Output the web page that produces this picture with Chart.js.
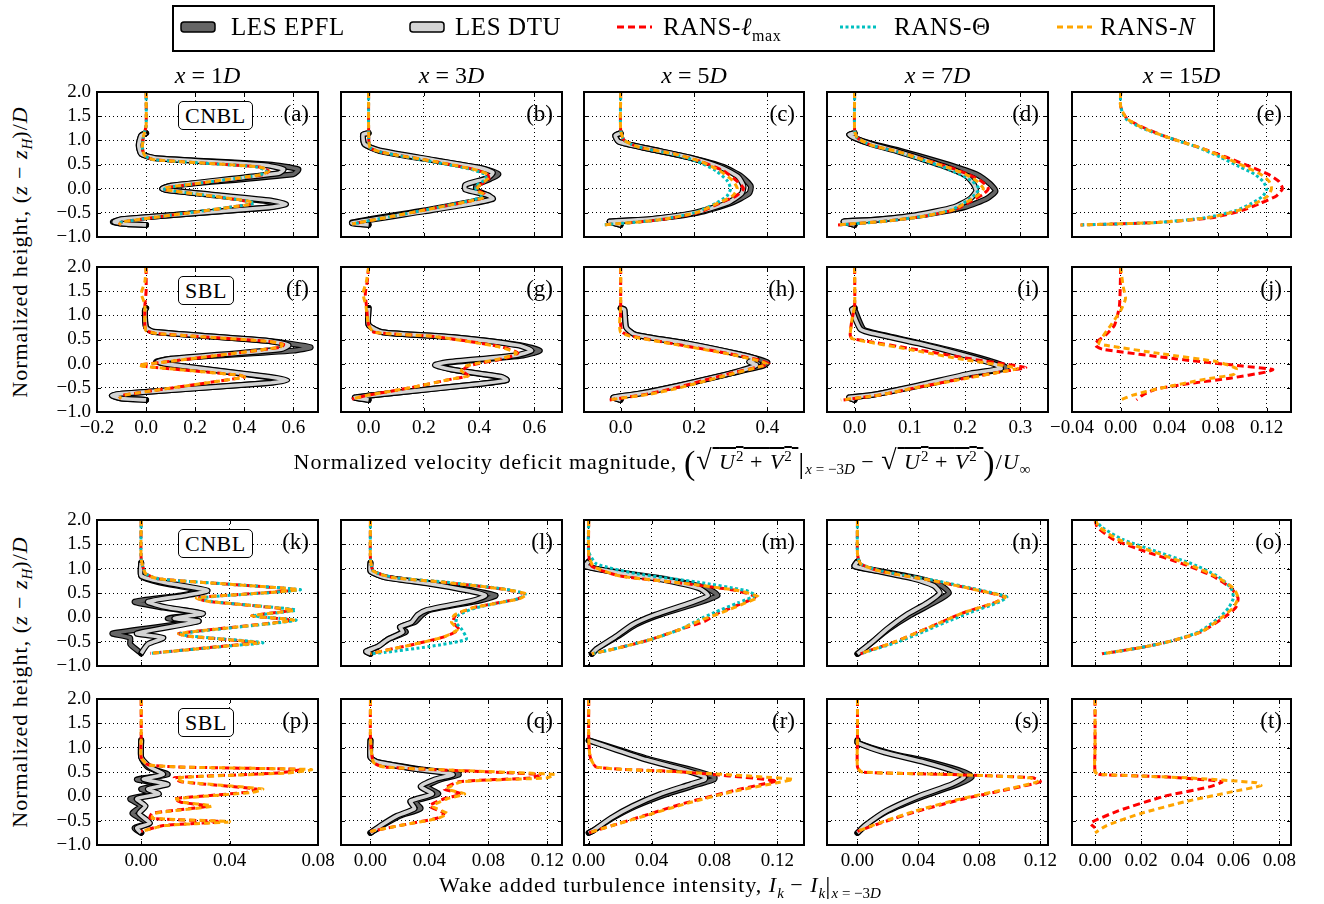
<!DOCTYPE html>
<html>
<head>
<meta charset="utf-8">
<script src="https://cdn.jsdelivr.net/npm/chart.js@4.4.0/dist/chart.umd.min.js"></script>
<style>
body { margin: 0; background: #fff; font-family: "Liberation Serif", "DejaVu Serif", serif; }
#fig { position: relative; width: 1324px; height: 904px; overflow: hidden; background: #fff; }
#fig canvas { position: absolute; }
.t { position: absolute; white-space: nowrap; color: #000; line-height: 1; }
.lbl { font-size: 22px; letter-spacing: 1px; }
.box { position: absolute; border: 1.5px solid #000; border-radius: 5px; font-size: 22px; padding: 3px 6px 2px 6px; line-height: 1; background: #fff; letter-spacing: 0.5px; }
.ov { text-decoration: overline; }
.s { font-size: 15px; letter-spacing: 0; }
.leg { font-size: 25px; letter-spacing: 0.6px; top: 14px; }
</style>
</head>
<body>
<div id="fig"></div>
<script>
// ---- axes / ticks ----
const yTicks = [-1, -0.5, 0, 0.5, 1, 1.5, 2];
const xRangeVel = [[-0.2, 0.7], [-0.1, 0.7], [-0.1, 0.5], [-0.05, 0.35], [-0.04, 0.14]];
const xTicksVel = [[-0.2, 0, 0.2, 0.4, 0.6], [0, 0.2, 0.4, 0.6], [0, 0.2, 0.4], [0, 0.1, 0.2, 0.3], [-0.04, 0, 0.04, 0.08, 0.12]];
const xDecVel = [1, 1, 1, 1, 2];
const xRangeTI = [[-0.02, 0.08], [-0.02, 0.13], [-0.003, 0.137], [-0.02, 0.125], [-0.01, 0.085]];
const xTicksTI = [[0, 0.04, 0.08], [0, 0.04, 0.08, 0.12], [0, 0.04, 0.08, 0.12], [0, 0.04, 0.08, 0.12], [0, 0.02, 0.04, 0.06, 0.08]];
const columns = ['1', '3', '5', '7', '15'];

// ---- data: [x, (z - zH)/D] pairs ----
// row 1: CNBL velocity deficit
const a_epfl = [[0,1.15],[-0.02,1.1],[-0.03,0.9],[-0.02,0.72],[0.04,0.63],[0.5,0.5],[0.62,0.4],[0.6,0.3],[0.1,0.06],[0.065,0.0],[0.1,-0.04],[0.48,-0.25],[0.55,-0.33],[0.48,-0.4],[-0.1,-0.63],[-0.135,-0.69],[-0.08,-0.73],[0,-0.75]];
const a_dtu = [[0,1.15],[-0.02,1.1],[-0.03,0.9],[-0.02,0.72],[0.04,0.63],[0.48,0.49],[0.56,0.4],[0.54,0.32],[0.1,0.06],[0.065,0.0],[0.1,-0.04],[0.5,-0.24],[0.57,-0.32],[0.5,-0.39],[-0.1,-0.63],[-0.13,-0.69],[-0.08,-0.73],[0,-0.75]];
const a_lmax = [[0,2],[0,1.3],[-0.01,1.1],[-0.015,0.85],[-0.005,0.68],[0.03,0.6],[0.46,0.45],[0.5,0.36],[0.47,0.28],[0.08,0.02],[0.075,-0.02],[0.41,-0.26],[0.43,-0.32],[-0.1,-0.69],[-0.11,-0.75]];
const a_theta = [[0,2],[0,1.3],[-0.01,1.1],[-0.015,0.85],[-0.005,0.68],[0.03,0.6],[0.45,0.45],[0.49,0.36],[0.46,0.28],[0.08,0.02],[0.075,-0.02],[0.42,-0.26],[0.44,-0.31],[-0.1,-0.69],[-0.11,-0.75]];
const a_n = [[0,2],[0,1.3],[-0.01,1.1],[-0.015,0.85],[-0.005,0.68],[0.03,0.6],[0.46,0.45],[0.5,0.37],[0.47,0.29],[0.08,0.02],[0.075,-0.02],[0.42,-0.26],[0.43,-0.32],[-0.1,-0.69],[-0.11,-0.75]];

const b_epfl = [[0,1.15],[-0.02,1.12],[-0.015,0.92],[0.04,0.78],[0.24,0.58],[0.42,0.41],[0.47,0.3],[0.44,0.2],[0.39,0.07],[0.39,-0.03],[0.43,-0.14],[0.40,-0.24],[0.2,-0.45],[-0.06,-0.7],[0,-0.75]];
const b_dtu = [[0,1.15],[-0.02,1.12],[-0.015,0.92],[0.04,0.79],[0.24,0.59],[0.41,0.42],[0.45,0.33],[0.43,0.22],[0.35,0.08],[0.35,-0.02],[0.43,-0.13],[0.45,-0.21],[0.38,-0.3],[0.2,-0.47],[-0.06,-0.71],[0,-0.75]];
const b_lmax = [[0,2],[0,1.2],[0.005,0.85],[0.05,0.75],[0.24,0.56],[0.38,0.4],[0.43,0.3],[0.435,0.2],[0.4,0.06],[0.4,-0.04],[0.42,-0.12],[0.41,-0.2],[0.24,-0.4],[0.06,-0.6],[-0.06,-0.73]];
const b_theta = [[0,2],[0,1.2],[0.005,0.85],[0.05,0.75],[0.23,0.56],[0.37,0.4],[0.42,0.3],[0.425,0.2],[0.39,0.06],[0.39,-0.04],[0.41,-0.12],[0.4,-0.2],[0.24,-0.4],[0.06,-0.6],[-0.06,-0.73]];
const b_n = [[0,2],[0,1.2],[0.005,0.85],[0.05,0.75],[0.24,0.56],[0.38,0.4],[0.43,0.3],[0.43,0.2],[0.4,0.06],[0.39,-0.04],[0.42,-0.12],[0.41,-0.2],[0.24,-0.4],[0.06,-0.6],[-0.06,-0.73]];

const c_epfl = [[0,1.15],[-0.015,1.1],[-0.005,0.97],[0.08,0.82],[0.19,0.64],[0.28,0.45],[0.33,0.25],[0.355,0.05],[0.35,-0.1],[0.3,-0.3],[0.21,-0.5],[0.08,-0.63],[-0.03,-0.68],[0,-0.75]];
const c_dtu = [[0,1.15],[-0.015,1.1],[-0.005,0.97],[0.08,0.82],[0.19,0.64],[0.27,0.45],[0.32,0.25],[0.335,0.05],[0.33,-0.1],[0.29,-0.3],[0.2,-0.5],[0.08,-0.63],[-0.03,-0.68],[0,-0.75]];
const c_lmax = [[0,2],[0,1.2],[0.01,1.0],[0.05,0.86],[0.15,0.71],[0.22,0.56],[0.28,0.37],[0.315,0.17],[0.335,0.0],[0.315,-0.15],[0.27,-0.3],[0.21,-0.5],[0.1,-0.65],[-0.05,-0.75]];
const c_theta = [[0,2],[0,1.2],[0.01,1.0],[0.05,0.86],[0.145,0.71],[0.21,0.56],[0.26,0.37],[0.29,0.17],[0.3,0.0],[0.29,-0.15],[0.26,-0.3],[0.2,-0.5],[0.1,-0.65],[-0.05,-0.75]];
const c_n = [[0,2],[0,1.2],[0.01,1.0],[0.05,0.86],[0.15,0.71],[0.22,0.56],[0.27,0.37],[0.305,0.17],[0.318,0.0],[0.305,-0.15],[0.265,-0.3],[0.205,-0.5],[0.1,-0.65],[-0.05,-0.75]];

const d_epfl = [[0,1.15],[-0.01,1.12],[0.0,1.05],[0.03,0.93],[0.08,0.79],[0.13,0.63],[0.18,0.46],[0.22,0.3],[0.245,0.1],[0.255,-0.05],[0.24,-0.2],[0.2,-0.38],[0.12,-0.55],[0.03,-0.65],[-0.02,-0.68],[0,-0.75]];
const d_dtu = [[0,1.15],[-0.01,1.12],[0.0,1.05],[0.03,0.92],[0.075,0.78],[0.12,0.62],[0.165,0.45],[0.2,0.28],[0.215,0.1],[0.22,-0.05],[0.21,-0.2],[0.18,-0.38],[0.11,-0.55],[0.03,-0.65],[-0.02,-0.68],[0,-0.75]];
const d_lmax = [[0,2],[0,1.2],[0.005,1.05],[0.03,0.9],[0.08,0.76],[0.125,0.6],[0.17,0.45],[0.205,0.3],[0.23,0.15],[0.242,0.0],[0.232,-0.12],[0.205,-0.3],[0.18,-0.44],[0.12,-0.58],[0.05,-0.68],[-0.03,-0.75]];
const d_theta = [[0,2],[0,1.2],[0.005,1.05],[0.03,0.9],[0.078,0.76],[0.12,0.6],[0.16,0.45],[0.19,0.3],[0.213,0.15],[0.225,0.0],[0.218,-0.12],[0.197,-0.3],[0.175,-0.44],[0.12,-0.58],[0.05,-0.68],[-0.03,-0.75]];
const d_n = [[0,2],[0,1.2],[0.005,1.05],[0.03,0.9],[0.08,0.76],[0.123,0.6],[0.166,0.45],[0.2,0.3],[0.222,0.15],[0.233,0.0],[0.225,-0.12],[0.2,-0.3],[0.178,-0.44],[0.12,-0.58],[0.05,-0.68],[-0.03,-0.75]];

const e_lmax = [[0,2],[0,1.7],[0.005,1.45],[0.02,1.25],[0.04,1.05],[0.065,0.85],[0.087,0.65],[0.107,0.45],[0.121,0.3],[0.13,0.15],[0.133,0.0],[0.128,-0.15],[0.115,-0.3],[0.1,-0.45],[0.075,-0.6],[0.03,-0.7],[-0.033,-0.75]];
const e_theta = [[0,2],[0,1.7],[0.004,1.45],[0.018,1.25],[0.04,1.05],[0.064,0.85],[0.082,0.65],[0.098,0.45],[0.11,0.3],[0.117,0.15],[0.12,0.0],[0.117,-0.15],[0.108,-0.3],[0.095,-0.45],[0.07,-0.6],[0.03,-0.7],[-0.033,-0.75]];
const e_n = [[0,2],[0,1.7],[0.005,1.45],[0.019,1.25],[0.04,1.05],[0.065,0.85],[0.085,0.65],[0.103,0.45],[0.115,0.3],[0.122,0.15],[0.124,0.0],[0.121,-0.15],[0.111,-0.3],[0.097,-0.45],[0.072,-0.6],[0.03,-0.7],[-0.033,-0.75]];

// row 2: SBL velocity deficit
const f_epfl = [[0,1.15],[-0.005,1.1],[0,0.75],[0.03,0.66],[0.5,0.47],[0.67,0.34],[0.6,0.27],[0.1,0.1],[0.04,0.04],[0.1,-0.02],[0.5,-0.28],[0.55,-0.34],[0.5,-0.4],[-0.1,-0.62],[-0.14,-0.66],[-0.1,-0.72],[0,-0.75]];
const f_dtu = [[0,1.15],[-0.005,1.1],[0,0.75],[0.03,0.66],[0.5,0.47],[0.58,0.38],[0.55,0.3],[0.1,0.1],[0.045,0.04],[0.1,-0.02],[0.5,-0.27],[0.575,-0.34],[0.5,-0.4],[-0.1,-0.62],[-0.14,-0.66],[-0.1,-0.72],[0,-0.75]];
const f_lmax = [[0,2],[0,1.5],[-0.005,1.2],[-0.005,0.8],[0.0,0.68],[0.05,0.62],[0.5,0.46],[0.56,0.4],[0.55,0.34],[0.02,0.0],[-0.03,-0.03],[0.0,-0.06],[0.38,-0.24],[0.4,-0.28],[-0.09,-0.65],[-0.11,-0.72]];
const f_n = [[0,2],[-0.005,1.7],[-0.02,1.45],[-0.01,1.3],[-0.005,1.2],[-0.005,0.8],[0.0,0.68],[0.05,0.62],[0.5,0.46],[0.555,0.4],[0.545,0.34],[0.02,0.0],[-0.03,-0.03],[0.0,-0.06],[0.38,-0.24],[0.4,-0.28],[-0.09,-0.65],[-0.11,-0.72]];

const g_epfl = [[0,1.15],[0.0,0.8],[0.05,0.65],[0.3,0.55],[0.55,0.38],[0.62,0.27],[0.56,0.17],[0.3,0.03],[0.25,-0.03],[0.3,-0.12],[0.48,-0.28],[0.5,-0.34],[0.4,-0.42],[0.1,-0.6],[-0.05,-0.7],[0,-0.75]];
const g_dtu = [[0,1.15],[0.0,0.8],[0.05,0.65],[0.3,0.55],[0.54,0.38],[0.59,0.27],[0.53,0.17],[0.28,0.03],[0.24,-0.03],[0.3,-0.12],[0.48,-0.27],[0.5,-0.34],[0.4,-0.42],[0.1,-0.6],[-0.05,-0.7],[0,-0.75]];
const g_lmax = [[0,2],[-0.005,1.7],[-0.012,1.45],[-0.008,1.2],[0,0.8],[0.02,0.65],[0.24,0.56],[0.48,0.35],[0.54,0.22],[0.5,0.12],[0.36,-0.05],[0.34,-0.15],[0.36,-0.25],[0.3,-0.32],[0.15,-0.5],[0.0,-0.65],[-0.06,-0.73]];
const g_n = [[0,2],[-0.008,1.7],[-0.02,1.45],[-0.01,1.2],[0,0.8],[0.02,0.65],[0.24,0.56],[0.47,0.35],[0.535,0.22],[0.49,0.12],[0.35,-0.05],[0.335,-0.15],[0.36,-0.25],[0.3,-0.32],[0.15,-0.5],[0.0,-0.65],[-0.06,-0.73]];

const h_epfl = [[0,1.15],[0.01,1.12],[0.015,0.75],[0.04,0.6],[0.18,0.42],[0.32,0.2],[0.4,0.03],[0.39,-0.04],[0.3,-0.2],[0.16,-0.45],[0.05,-0.62],[-0.02,-0.7],[0,-0.75]];
const h_dtu = [[0,1.15],[0.01,1.12],[0.015,0.75],[0.04,0.6],[0.18,0.42],[0.32,0.2],[0.37,0.1],[0.35,0.04],[0.37,-0.03],[0.3,-0.2],[0.16,-0.45],[0.05,-0.62],[-0.02,-0.7],[0,-0.75]];
const h_lmax = [[0,2],[0,1.2],[0,0.8],[0.005,0.65],[0.03,0.57],[0.16,0.39],[0.3,0.2],[0.38,0.07],[0.405,0.0],[0.38,-0.06],[0.3,-0.2],[0.2,-0.4],[0.15,-0.5],[0.08,-0.62],[-0.03,-0.75]];
const h_n = [[0,2],[0,1.2],[-0.003,0.8],[0.0,0.65],[0.025,0.57],[0.155,0.39],[0.295,0.2],[0.375,0.06],[0.4,-0.01],[0.375,-0.07],[0.3,-0.22],[0.2,-0.42],[0.15,-0.52],[0.08,-0.63],[-0.035,-0.75]];

const i_epfl = [[0,1.15],[0.0,1.12],[0.015,0.72],[0.03,0.65],[0.12,0.42],[0.21,0.17],[0.265,-0.02],[0.275,-0.1],[0.22,-0.2],[0.12,-0.45],[0.03,-0.65],[-0.01,-0.7],[0,-0.75]];
const i_dtu = [[0,1.15],[-0.005,1.12],[0.01,0.72],[0.025,0.65],[0.115,0.42],[0.2,0.17],[0.255,-0.02],[0.265,-0.1],[0.21,-0.2],[0.115,-0.45],[0.03,-0.65],[-0.01,-0.7],[0,-0.75]];
const i_lmax = [[0,2],[0,1.2],[-0.005,0.9],[-0.008,0.6],[-0.005,0.52],[0.01,0.49],[0.118,0.28],[0.21,0.1],[0.28,-0.02],[0.31,-0.08],[0.28,-0.14],[0.2,-0.3],[0.118,-0.48],[0.05,-0.64],[-0.02,-0.75]];
const i_n = [[0,2],[0,1.2],[-0.005,0.9],[-0.008,0.6],[-0.005,0.52],[0.01,0.48],[0.115,0.26],[0.2,0.08],[0.27,-0.04],[0.295,-0.1],[0.27,-0.16],[0.19,-0.33],[0.11,-0.5],[0.04,-0.66],[-0.025,-0.75]];

const j_lmax = [[0,2],[-0.001,1.2],[-0.005,0.8],[-0.012,0.6],[-0.021,0.42],[-0.02,0.36],[-0.015,0.3],[0.045,0.1],[0.1,-0.05],[0.125,-0.12],[0.12,-0.17],[0.09,-0.3],[0.06,-0.4],[0.03,-0.52],[0.018,-0.65],[0.013,-0.75]];
const j_n = [[0,2],[0.002,1.6],[0.004,1.35],[0.0,1.1],[-0.008,0.8],[-0.015,0.55],[-0.018,0.42],[-0.012,0.38],[0.032,0.21],[0.079,0.04],[0.095,-0.1],[0.093,-0.22],[0.07,-0.32],[0.032,-0.51],[0.01,-0.65],[0.0,-0.75]];

// row 3: CNBL added turbulence intensity
const k_epfl = [[0,1.12],[0.0,0.85],[0.008,0.72],[0.027,0.55],[0.018,0.45],[-0.003,0.32],[0.01,0.2],[0.027,0.08],[0.012,-0.02],[0.026,-0.08],[-0.013,-0.33],[-0.005,-0.42],[-0.005,-0.55],[0,-0.74]];
const k_dtu = [[0,1.12],[0.0,0.85],[0.01,0.72],[0.03,0.55],[0.02,0.45],[0.003,0.32],[0.012,0.2],[0.028,0.08],[0.015,-0.02],[0.026,-0.08],[-0.002,-0.33],[0.01,-0.42],[0.003,-0.55],[0,-0.74]];
const k_lmax = [[0,2],[0,1.2],[0.002,0.9],[0.008,0.79],[0.04,0.68],[0.07,0.57],[0.06,0.52],[0.025,0.4],[0.03,0.33],[0.068,0.15],[0.05,0.03],[0.068,-0.06],[0.017,-0.33],[0.02,-0.38],[0.052,-0.52],[0.04,-0.58],[0.004,-0.74]];
const k_theta = [[0,2],[0,1.2],[0.002,0.9],[0.008,0.79],[0.04,0.68],[0.072,0.57],[0.062,0.52],[0.026,0.4],[0.031,0.33],[0.07,0.15],[0.051,0.03],[0.07,-0.06],[0.018,-0.33],[0.021,-0.38],[0.055,-0.52],[0.042,-0.58],[0.004,-0.74]];
const k_n = [[0,2],[0,1.2],[0.002,0.9],[0.008,0.79],[0.04,0.68],[0.071,0.57],[0.061,0.52],[0.025,0.4],[0.03,0.33],[0.069,0.15],[0.05,0.03],[0.069,-0.06],[0.017,-0.33],[0.02,-0.38],[0.053,-0.52],[0.041,-0.58],[0.004,-0.74]];

const l_epfl = [[0,1.12],[0.0,0.95],[0.01,0.82],[0.04,0.7],[0.07,0.55],[0.085,0.45],[0.075,0.35],[0.04,0.15],[0.035,0.05],[0.03,-0.1],[0.02,-0.2],[0.024,-0.3],[0.012,-0.45],[0.005,-0.6],[-0.003,-0.7],[0,-0.75]];
const l_dtu = [[0,1.12],[0.0,0.95],[0.01,0.82],[0.038,0.7],[0.066,0.55],[0.078,0.45],[0.07,0.35],[0.038,0.15],[0.032,0.05],[0.028,-0.1],[0.02,-0.2],[0.022,-0.3],[0.012,-0.45],[0.005,-0.6],[-0.003,-0.7],[0,-0.75]];
const l_lmax = [[0,2],[0,1.2],[0.002,0.95],[0.015,0.82],[0.05,0.72],[0.09,0.58],[0.104,0.48],[0.1,0.38],[0.07,0.2],[0.058,0.05],[0.056,-0.1],[0.06,-0.25],[0.05,-0.4],[0.03,-0.55],[0.01,-0.68],[0.0,-0.75]];
const l_theta = [[0,2],[0,1.2],[0.002,0.95],[0.016,0.82],[0.052,0.72],[0.091,0.58],[0.105,0.48],[0.1,0.38],[0.072,0.2],[0.06,0.05],[0.058,-0.1],[0.062,-0.25],[0.065,-0.45],[0.04,-0.6],[0.01,-0.72],[0.0,-0.75]];
const l_n = [[0,2],[0,1.2],[0.002,0.95],[0.015,0.82],[0.05,0.72],[0.09,0.58],[0.106,0.48],[0.101,0.38],[0.07,0.2],[0.057,0.05],[0.055,-0.1],[0.059,-0.25],[0.05,-0.4],[0.03,-0.55],[0.01,-0.68],[0.0,-0.75]];

const m_epfl = [[0,1.15],[-0.002,1.05],[0.02,0.92],[0.05,0.78],[0.075,0.6],[0.082,0.45],[0.07,0.3],[0.045,0.05],[0.03,-0.15],[0.018,-0.4],[0.005,-0.65],[0.002,-0.75]];
const m_dtu = [[0,1.15],[-0.002,1.05],[0.018,0.92],[0.046,0.78],[0.07,0.6],[0.076,0.45],[0.065,0.3],[0.042,0.05],[0.028,-0.15],[0.017,-0.4],[0.005,-0.65],[0.002,-0.75]];
const m_lmax = [[0,2],[0,1.3],[0.002,1.05],[0.02,0.85],[0.06,0.7],[0.094,0.55],[0.106,0.42],[0.097,0.28],[0.082,0.08],[0.074,-0.08],[0.058,-0.25],[0.04,-0.45],[0.02,-0.62],[0.002,-0.75]];
const m_theta = [[0,2],[0,1.35],[0.005,1.1],[0.03,0.9],[0.07,0.72],[0.1,0.55],[0.106,0.45],[0.095,0.3],[0.08,0.1],[0.07,-0.05],[0.058,-0.25],[0.04,-0.45],[0.02,-0.62],[0.002,-0.75]];
const m_n = [[0,2],[0,1.3],[0.003,1.05],[0.02,0.85],[0.06,0.7],[0.095,0.55],[0.108,0.42],[0.1,0.3],[0.085,0.1],[0.072,-0.05],[0.058,-0.25],[0.04,-0.45],[0.02,-0.62],[0.002,-0.75]];

const n_epfl = [[0,1.15],[-0.002,1.05],[0.015,0.95],[0.04,0.8],[0.055,0.65],[0.06,0.5],[0.05,0.3],[0.035,0.05],[0.02,-0.25],[0.01,-0.5],[0.002,-0.7],[0.0,-0.75]];
const n_dtu = [[0,1.15],[-0.002,1.05],[0.013,0.95],[0.036,0.8],[0.05,0.65],[0.054,0.5],[0.046,0.3],[0.032,0.05],[0.019,-0.25],[0.01,-0.5],[0.002,-0.7],[0.0,-0.75]];
const n_lmax = [[0,2],[0,1.3],[0.002,1.1],[0.015,0.95],[0.05,0.75],[0.08,0.55],[0.096,0.42],[0.09,0.3],[0.07,0.1],[0.055,-0.1],[0.04,-0.3],[0.025,-0.5],[0.008,-0.68],[0.002,-0.75]];
const n_theta = [[0,2],[0,1.3],[0.002,1.1],[0.016,0.95],[0.052,0.75],[0.082,0.55],[0.098,0.42],[0.092,0.3],[0.074,0.1],[0.058,-0.1],[0.043,-0.3],[0.027,-0.5],[0.009,-0.68],[0.002,-0.75]];
const n_n = [[0,2],[0,1.3],[0.002,1.1],[0.015,0.95],[0.05,0.75],[0.08,0.55],[0.097,0.42],[0.09,0.3],[0.07,0.1],[0.055,-0.1],[0.04,-0.3],[0.025,-0.5],[0.008,-0.68],[0.002,-0.75]];

const o_lmax = [[0,2],[0.001,1.85],[0.008,1.6],[0.022,1.35],[0.038,1.1],[0.051,0.85],[0.059,0.6],[0.062,0.4],[0.061,0.2],[0.056,0.0],[0.046,-0.3],[0.032,-0.5],[0.02,-0.62],[0.003,-0.75]];
const o_theta = [[0,2],[0.003,1.85],[0.012,1.6],[0.027,1.35],[0.042,1.1],[0.053,0.85],[0.059,0.6],[0.06,0.4],[0.058,0.2],[0.054,0.0],[0.045,-0.3],[0.032,-0.5],[0.02,-0.62],[0.003,-0.75]];
const o_n = [[0,2],[0.002,1.85],[0.01,1.6],[0.025,1.35],[0.04,1.1],[0.052,0.85],[0.06,0.6],[0.062,0.4],[0.06,0.2],[0.055,0.0],[0.046,-0.3],[0.032,-0.5],[0.02,-0.62],[0.003,-0.75]];

// row 4: SBL added turbulence intensity
const p_epfl = [[0,1.15],[0.0,0.8],[0.003,0.6],[0.012,0.45],[-0.002,0.35],[0.01,0.25],[0.0,0.15],[0.006,0.05],[-0.005,-0.05],[0.0,-0.2],[-0.004,-0.35],[0.003,-0.55],[-0.003,-0.65],[0,-0.75]];
const p_dtu = [[0,1.15],[0.0,0.8],[0.004,0.6],[0.01,0.45],[0.001,0.35],[0.012,0.25],[0.003,0.15],[0.008,0.05],[-0.002,-0.05],[0.002,-0.2],[-0.001,-0.35],[0.004,-0.55],[-0.002,-0.65],[0,-0.75]];
const p_lmax = [[0,2],[0,1.2],[0.0,0.8],[0.003,0.65],[0.02,0.6],[0.072,0.55],[0.062,0.48],[0.015,0.38],[0.018,0.3],[0.052,0.15],[0.047,0.08],[0.015,-0.05],[0.018,-0.12],[0.03,-0.2],[0.005,-0.35],[0.004,-0.45],[0.036,-0.52],[0.01,-0.6],[0.0,-0.72]];
const p_n = [[0,2],[0,1.2],[0.0,0.8],[0.003,0.65],[0.02,0.6],[0.077,0.55],[0.066,0.48],[0.016,0.38],[0.019,0.3],[0.055,0.15],[0.05,0.08],[0.016,-0.05],[0.019,-0.12],[0.032,-0.2],[0.006,-0.35],[0.005,-0.45],[0.04,-0.52],[0.011,-0.6],[0.0,-0.72]];

const q_epfl = [[0,1.15],[0.0,0.8],[0.005,0.7],[0.035,0.55],[0.06,0.45],[0.048,0.35],[0.038,0.2],[0.046,0.05],[0.03,-0.1],[0.034,-0.25],[0.02,-0.4],[0.008,-0.6],[0,-0.75]];
const q_dtu = [[0,1.15],[0.0,0.8],[0.005,0.7],[0.033,0.55],[0.056,0.45],[0.044,0.35],[0.034,0.2],[0.042,0.05],[0.027,-0.1],[0.03,-0.25],[0.018,-0.4],[0.007,-0.6],[0,-0.75]];
const q_lmax = [[0,2],[0,1.2],[0.002,0.7],[0.01,0.6],[0.115,0.45],[0.11,0.38],[0.06,0.3],[0.05,0.15],[0.062,0.05],[0.05,-0.05],[0.04,-0.2],[0.05,-0.35],[0.045,-0.45],[0.02,-0.6],[0.0,-0.72]];
const q_n = [[0,2],[0,1.2],[0.002,0.7],[0.01,0.6],[0.125,0.45],[0.12,0.38],[0.062,0.3],[0.052,0.15],[0.064,0.05],[0.052,-0.05],[0.042,-0.2],[0.052,-0.35],[0.046,-0.45],[0.02,-0.6],[0.0,-0.72]];

const r_epfl = [[0,1.15],[0.02,0.95],[0.04,0.75],[0.065,0.55],[0.08,0.4],[0.08,0.35],[0.07,0.25],[0.05,0.05],[0.03,-0.2],[0.015,-0.45],[0.003,-0.7],[0,-0.75]];
const r_dtu = [[0,1.15],[0.018,0.95],[0.037,0.75],[0.06,0.55],[0.074,0.4],[0.074,0.35],[0.065,0.25],[0.046,0.05],[0.028,-0.2],[0.014,-0.45],[0.003,-0.7],[0,-0.75]];
const r_lmax = [[0,2],[0,1.2],[0.001,0.8],[0.005,0.6],[0.06,0.5],[0.12,0.32],[0.112,0.26],[0.09,0.1],[0.06,-0.15],[0.035,-0.4],[0.015,-0.6],[0.0,-0.75]];
const r_n = [[0,2],[0,1.2],[0.001,0.8],[0.005,0.6],[0.06,0.5],[0.13,0.35],[0.12,0.28],[0.092,0.1],[0.062,-0.15],[0.036,-0.4],[0.015,-0.6],[0.0,-0.75]];

const s_epfl = [[0,1.15],[0.0,1.1],[0.02,0.9],[0.048,0.7],[0.07,0.5],[0.075,0.4],[0.066,0.25],[0.043,0.0],[0.02,-0.3],[0.005,-0.6],[0.0,-0.75]];
const s_dtu = [[0,1.15],[0.0,1.1],[0.018,0.9],[0.044,0.7],[0.065,0.5],[0.07,0.4],[0.062,0.25],[0.04,0.0],[0.019,-0.3],[0.005,-0.6],[0.0,-0.75]];
const s_lmax = [[0,2],[0,1.2],[0.0,0.6],[0.003,0.5],[0.06,0.45],[0.115,0.38],[0.12,0.3],[0.1,0.15],[0.07,-0.05],[0.04,-0.3],[0.015,-0.55],[0.0,-0.72]];
const s_n = [[0,2],[0,1.2],[0.0,0.6],[0.003,0.5],[0.06,0.45],[0.113,0.38],[0.118,0.3],[0.098,0.15],[0.068,-0.05],[0.038,-0.3],[0.014,-0.55],[0.0,-0.72]];

const t_lmax = [[0,2],[0,1.0],[0.0,0.5],[0.002,0.45],[0.03,0.4],[0.055,0.3],[0.05,0.2],[0.03,0.0],[0.01,-0.3],[-0.002,-0.55],[0.0,-0.65]];
const t_n = [[0,2],[0,1.0],[0.0,0.5],[0.003,0.45],[0.04,0.38],[0.07,0.28],[0.072,0.22],[0.06,0.1],[0.04,-0.1],[0.02,-0.35],[0.005,-0.6],[0.0,-0.75]];

const panels = [
  {id: 'a', row: 0, col: 0, tag: 'CNBL', epfl: a_epfl, dtu: a_dtu, lmax: a_lmax, theta: a_theta, n: a_n},
  {id: 'b', row: 0, col: 1, epfl: b_epfl, dtu: b_dtu, lmax: b_lmax, theta: b_theta, n: b_n},
  {id: 'c', row: 0, col: 2, epfl: c_epfl, dtu: c_dtu, lmax: c_lmax, theta: c_theta, n: c_n},
  {id: 'd', row: 0, col: 3, epfl: d_epfl, dtu: d_dtu, lmax: d_lmax, theta: d_theta, n: d_n},
  {id: 'e', row: 0, col: 4, lmax: e_lmax, theta: e_theta, n: e_n},
  {id: 'f', row: 1, col: 0, tag: 'SBL', epfl: f_epfl, dtu: f_dtu, lmax: f_lmax, n: f_n},
  {id: 'g', row: 1, col: 1, epfl: g_epfl, dtu: g_dtu, lmax: g_lmax, n: g_n},
  {id: 'h', row: 1, col: 2, epfl: h_epfl, dtu: h_dtu, lmax: h_lmax, n: h_n},
  {id: 'i', row: 1, col: 3, epfl: i_epfl, dtu: i_dtu, lmax: i_lmax, n: i_n},
  {id: 'j', row: 1, col: 4, lmax: j_lmax, n: j_n},
  {id: 'k', row: 2, col: 0, tag: 'CNBL', epfl: k_epfl, dtu: k_dtu, lmax: k_lmax, theta: k_theta, n: k_n},
  {id: 'l', row: 2, col: 1, epfl: l_epfl, dtu: l_dtu, lmax: l_lmax, theta: l_theta, n: l_n},
  {id: 'm', row: 2, col: 2, epfl: m_epfl, dtu: m_dtu, lmax: m_lmax, theta: m_theta, n: m_n},
  {id: 'n', row: 2, col: 3, epfl: n_epfl, dtu: n_dtu, lmax: n_lmax, theta: n_theta, n: n_n},
  {id: 'o', row: 2, col: 4, lmax: o_lmax, theta: o_theta, n: o_n},
  {id: 'p', row: 3, col: 0, tag: 'SBL', epfl: p_epfl, dtu: p_dtu, lmax: p_lmax, n: p_n},
  {id: 'q', row: 3, col: 1, epfl: q_epfl, dtu: q_dtu, lmax: q_lmax, n: q_n},
  {id: 'r', row: 3, col: 2, epfl: r_epfl, dtu: r_dtu, lmax: r_lmax, n: r_n},
  {id: 's', row: 3, col: 3, epfl: s_epfl, dtu: s_dtu, lmax: s_lmax, n: s_n},
  {id: 't', row: 3, col: 4, lmax: t_lmax, n: t_n}
];

// ---- layout ----
const colLeft = [97, 341, 584, 827, 1072];
const colWidth = [221, 221, 220, 221, 219];
const rowTop = [92, 267, 520, 699];
const rowHeight = [145, 145, 146, 146];
const FONT = '"Liberation Serif", "DejaVu Serif", serif';

const fig = document.getElementById('fig');

function fmt(v, d) {
  return (v < -1e-9 ? '\u2212' : '') + Math.abs(v).toFixed(d);
}
function pts(arr) {
  return arr.map(p => ({x: p[0], y: p[1]}));
}

// frame + inward ticks, like matplotlib
const framePlugin = {
  id: 'frame',
  afterDraw(chart) {
    const {ctx, chartArea: a, scales} = chart;
    ctx.save();
    ctx.strokeStyle = '#000';
    ctx.lineWidth = 1;
    ctx.setLineDash([]);
    ctx.beginPath();
    scales.x.ticks.forEach(t => {
      const px = Math.round(scales.x.getPixelForValue(t.value)) + 0.5;
      ctx.moveTo(px, a.bottom); ctx.lineTo(px, a.bottom - 4);
      ctx.moveTo(px, a.top); ctx.lineTo(px, a.top + 4);
    });
    scales.y.ticks.forEach(t => {
      const py = Math.round(scales.y.getPixelForValue(t.value)) + 0.5;
      ctx.moveTo(a.left, py); ctx.lineTo(a.left + 4, py);
      ctx.moveTo(a.right, py); ctx.lineTo(a.right - 4, py);
    });
    ctx.stroke();
    ctx.lineWidth = 2;
    ctx.strokeRect(a.left, a.top, a.right - a.left, a.bottom - a.top);
    ctx.restore();
  }
};

function lesSets(data, fill, ord) {
  return [
    {data: pts(data), showLine: true, pointRadius: 0, borderColor: '#000', borderWidth: 6, tension: 0.2,
     borderJoinStyle: 'round', borderCapStyle: 'round', order: ord + 1},
    {data: pts(data), showLine: true, pointRadius: 0, borderColor: fill, borderWidth: 3.6, tension: 0.2,
     borderJoinStyle: 'round', borderCapStyle: 'butt', order: ord}
  ];
}
function ransSet(data, color, dash, ord) {
  return {data: pts(data), showLine: true, pointRadius: 0, borderColor: color, borderWidth: 3,
          borderDash: dash, tension: 0.2, borderJoinStyle: 'round', order: ord};
}

const PADL = 52, PADT = 12, PADR = 24, PADB = 34;

panels.forEach(p => {
  const r = p.row, c = p.col;
  const w = colWidth[c], h = rowHeight[r];
  const vel = r < 2;
  const xr = vel ? xRangeVel[c] : xRangeTI[c];
  const xt = vel ? xTicksVel[c] : xTicksTI[c];
  const xd = vel ? xDecVel[c] : 2;
  const showX = (r === 1 || r === 3);
  const showY = (c === 0);

  const cv = document.createElement('canvas');
  cv.width = w + PADL + PADR;
  cv.height = h + PADT + PADB;
  cv.style.left = (colLeft[c] - PADL) + 'px';
  cv.style.top = (rowTop[r] - PADT) + 'px';
  fig.appendChild(cv);

  const datasets = [];
  if (p.n) datasets.push(ransSet(p.n, '#ffa500', [6, 4], 1));
  if (p.theta) datasets.push(ransSet(p.theta, '#00bfbf', [3, 2.5], 2));
  if (p.lmax) datasets.push(ransSet(p.lmax, '#ff0000', [7, 4], 3));
  if (p.dtu) datasets.push(...lesSets(p.dtu, '#d4d4d4', 5));
  if (p.epfl) datasets.push(...lesSets(p.epfl, '#666666', 8));

  new Chart(cv, {
    type: 'scatter',
    data: {datasets},
    options: {
      responsive: false,
      animation: false,
      events: [],
      layout: {padding: {top: PADT, right: PADR, left: 0, bottom: 0}},
      plugins: {legend: {display: false}, tooltip: {enabled: false}},
      scales: {
        x: {
          type: 'linear', min: xr[0], max: xr[1],
          afterBuildTicks: s => { s.ticks = xt.map(v => ({value: v})); },
          afterFit: s => { s.height = PADB; s.paddingLeft = 0; s.paddingRight = 0; },
          grid: {color: '#000', lineWidth: 1, drawTicks: false},
          border: {display: false, dash: [1, 3]},
          ticks: {display: showX, padding: 5, color: '#000', autoSkip: false, maxRotation: 0,
                  font: {family: FONT, size: 19}, callback: v => fmt(v, xd)}
        },
        y: {
          type: 'linear', min: -1, max: 2,
          afterBuildTicks: s => { s.ticks = yTicks.map(v => ({value: v})); },
          afterFit: s => { s.width = PADL; s.paddingTop = 0; s.paddingBottom = 0; },
          grid: {color: '#000', lineWidth: 1, drawTicks: false},
          border: {display: false, dash: [1, 3]},
          ticks: {display: showY, padding: 6, color: '#000', autoSkip: false,
                  font: {family: FONT, size: 19}, callback: v => fmt(v, 1)}
        }
      }
    },
    plugins: [framePlugin]
  });

  // panel letter
  const lab = document.createElement('div');
  lab.className = 't';
  lab.style.fontSize = '23px';
  lab.style.right = (1324 - (colLeft[c] + w - 9)) + 'px';
  lab.style.top = (rowTop[r] + 10) + 'px';
  lab.textContent = '(' + p.id + ')';
  fig.appendChild(lab);

  if (p.tag) {
    const b = document.createElement('div');
    b.className = 'box';
    b.style.left = '178px';
    b.style.top = (rowTop[r] + 9) + 'px';
    b.textContent = p.tag;
    fig.appendChild(b);
  }
});

// column titles
columns.forEach((n, c) => {
  const d = document.createElement('div');
  d.className = 't';
  d.style.fontSize = '24px';
  d.style.left = (colLeft[c] + colWidth[c] / 2) + 'px';
  d.style.top = '63px';
  d.style.transform = 'translateX(-50%)';
  d.innerHTML = '<i>x</i> = ' + n + '<i>D</i>';
  fig.appendChild(d);
});

// axis labels and legend
fig.insertAdjacentHTML('beforeend', `
<div class="t lbl" style="left:22px;top:252px;transform:translate(-50%,-50%) rotate(-90deg);">Normalized height, (<i>z</i> &minus; <i>z</i><sub class="s"><i>H</i></sub>)/<i>D</i></div>
<div class="t lbl" style="left:22px;top:682px;transform:translate(-50%,-50%) rotate(-90deg);">Normalized height, (<i>z</i> &minus; <i>z</i><sub class="s"><i>H</i></sub>)/<i>D</i></div>
<div class="t lbl" style="left:662px;top:463px;transform:translate(-50%,-50%);">Normalized velocity deficit magnitude, <span style="font-size:34px;vertical-align:-5px">(</span><span style="font-size:28px">&radic;</span><span class="ov">&nbsp;<i>U</i><sup class="s">2</sup> + <i>V</i><sup class="s">2</sup>&nbsp;</span><span style="font-size:30px;vertical-align:-4px">|</span><sub class="s"><i>x</i> = &minus;3<i>D</i></sub> &minus; <span style="font-size:28px">&radic;</span><span class="ov">&nbsp;<i>U</i><sup class="s">2</sup> + <i>V</i><sup class="s">2</sup>&nbsp;</span><span style="font-size:34px;vertical-align:-5px">)</span>/<i>U</i><sub class="s">&infin;</sub></div>
<div class="t lbl" style="left:660px;top:887px;transform:translate(-50%,-50%);">Wake added turbulence intensity, <i>I</i><sub class="s"><i>k</i></sub> &minus; <i>I</i><sub class="s"><i>k</i></sub><span style="font-size:26px;vertical-align:-2px">|</span><sub class="s"><i>x</i> = &minus;3<i>D</i></sub></div>
<div style="position:absolute;left:172px;top:5px;width:1039px;height:43px;border:2px solid #000;background:#fff;"></div>
<svg style="position:absolute;left:0;top:0" width="1324" height="60">
  <rect x="181" y="22" width="34" height="10" rx="3" fill="#666666" stroke="#000" stroke-width="1.5"/>
  <rect x="410" y="22" width="34" height="10" rx="3" fill="#d4d4d4" stroke="#000" stroke-width="1.5"/>
  <line x1="617" y1="27" x2="652" y2="27" stroke="#ff0000" stroke-width="3" stroke-dasharray="7 4"/>
  <line x1="840" y1="27" x2="876" y2="27" stroke="#00bfbf" stroke-width="3" stroke-dasharray="3 2.5"/>
  <line x1="1057" y1="27" x2="1092" y2="27" stroke="#ffa500" stroke-width="3" stroke-dasharray="6 4"/>
</svg>
<div class="t leg" style="left:231px;">LES EPFL</div>
<div class="t leg" style="left:455px;">LES DTU</div>
<div class="t leg" style="left:663px;">RANS-<i>&#8467;</i><sub style="font-size:16px">max</sub></div>
<div class="t leg" style="left:894px;">RANS-&Theta;</div>
<div class="t leg" style="left:1100px;">RANS-<i>N</i></div>
`);
</script>
</body>
</html>
